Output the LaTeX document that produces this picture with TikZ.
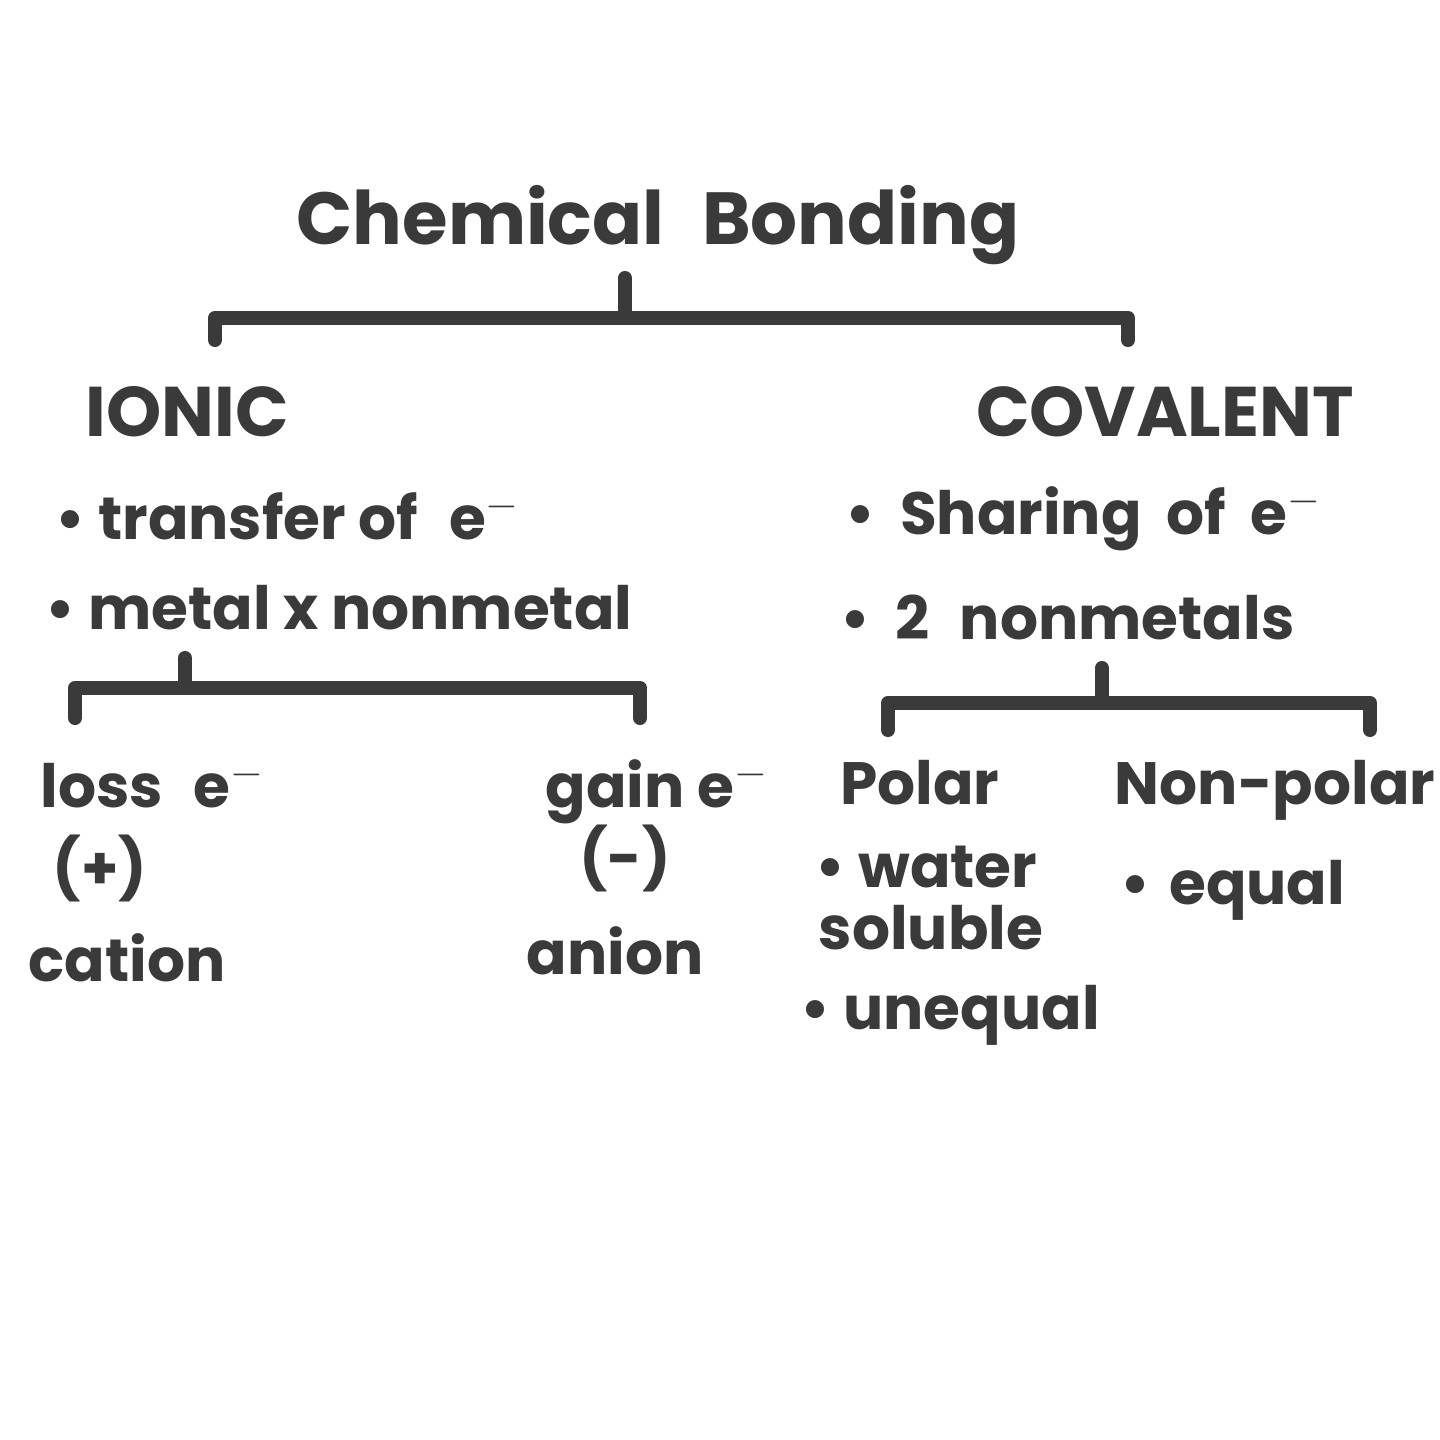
\documentclass[tikz,border=0pt]{standalone}
\usepackage{fontspec}
\setmainfont{Poppins}
\usetikzlibrary{calc}
\definecolor{ink}{HTML}{3A3A3A}
\tikzstyle{line} = [draw=ink, line width=4pt, line cap=round, line join=round]
\tikzstyle{title} = [text=ink, inner sep=0pt, anchor=base, font=\bfseries\fontsize{21}{26}\selectfont]
\tikzstyle{head} = [text=ink, inner sep=0pt, anchor=base, font=\bfseries\fontsize{20}{25}\selectfont]
\tikzstyle{item} = [text=ink, inner sep=0pt, anchor=base west, font=\bfseries\fontsize{17}{22}\selectfont]
\tikzstyle{mid} = [item, anchor=base]

\begin{document}
\begin{tikzpicture}
    \useasboundingbox[fill=white] (0,0) rectangle (14.4,14.4);
        \node[title] (bond) at (6.58,11.95) {Chemical\hspace{0.3em} Bonding};
        \node[head] (ionic) at (1.87,10.03) {IONIC};
        \node[head] (coval) at (11.65,10.03) {COVALENT};
        \node[item] (transfer) at (0.55,9.00) {• transfer of\hspace{0.3em} e$^{-}$};
        \node[item] (metal) at (0.45,8.10) {• metal x nonmetal};
        \node[item] (sharing) at (8.45,9.05) {• \hspace{0.2em}Sharing\hspace{0.2em} of\hspace{0.2em} e$^{-}$};
        \node[item] (nonmet) at (8.40,8.00) {• \hspace{0.2em}2\hspace{0.3em} nonmetals};
        \node[item] (loss) at (0.40,6.32) {loss\hspace{0.3em} e$^{-}$};
        \node[mid] (plus) at (1.00,5.50) {(+)};
        \node[mid] (cation) at (1.27,4.58) {cation};
        \node[item] (gain) at (5.45,6.32) {gain e$^{-}$};
        \node[mid] (minus) at (6.25,5.60) {(-)};
        \node[mid] (anion) at (6.15,4.65) {anion};
        \node[mid] (polar) at (9.20,6.35) {Polar};
        \node[item] (water) at (8.15,5.52) {• water};
        \node[item] (soluble) at (8.18,4.90) {soluble};
        \node[item] (unequal) at (8.00,4.10) {• unequal};
        \node[mid] (nonpolar) at (12.75,6.35) {Non-polar};
        \node[item] (equal) at (11.20,5.35) {• \hspace{0.1em}equal};
        % brackets
        \coordinate (topstem) at (6.25,11.62);
        \coordinate (topL) at (2.15,11.00);
        \coordinate (topR) at (11.28,11.00);
        \coordinate (ionstem) at (1.85,7.82);
        \coordinate (ionL) at (0.75,7.22);
        \coordinate (ionR) at (6.40,7.22);
        \coordinate (covstem) at (11.02,7.72);
        \coordinate (covL) at (8.88,7.10);
        \coordinate (covR) at (13.70,7.10);
        \path[line] (topstem) -- ++(0,-0.40);
        \path[line] (topL) -- ++(0,0.22) -| (topR);
        \path[line] (ionstem) -- ++(0,-0.30);
        \path[line] (ionL) -- ++(0,0.30) -| (ionR);
        \path[line] (covstem) -- ++(0,-0.35);
        \path[line] (covL) -- ++(0,0.27) -| (covR);
    \end{tikzpicture}
\end{document}
